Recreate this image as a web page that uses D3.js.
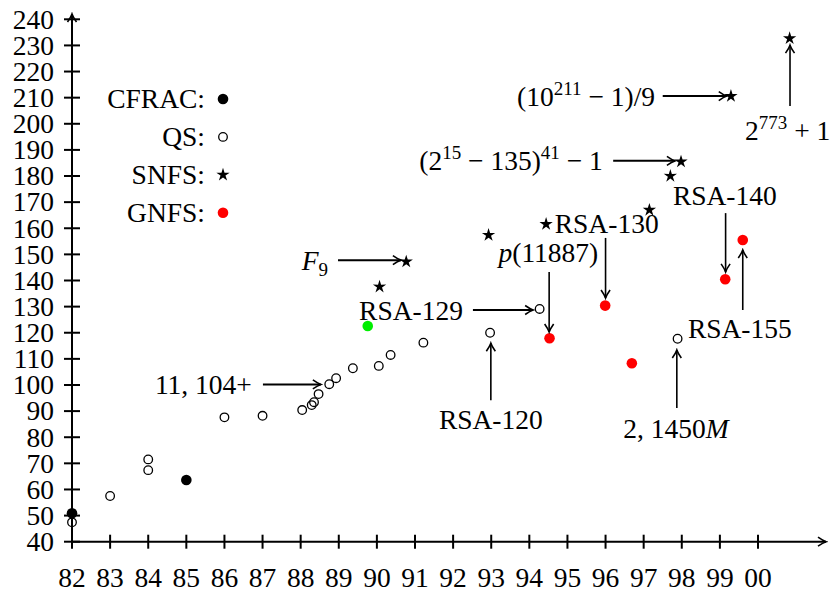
<!DOCTYPE html>
<html>
<head>
<meta charset="utf-8">
<script src="https://cdn.jsdelivr.net/npm/d3@7"></script>
<style>
body { margin: 0; background: #fff; }
text { font-family: "Liberation Serif", "DejaVu Serif", serif; font-size: 27.5px; fill: #000; }
</style>
</head>
<body>
<div id="chart"></div>
<script>
// tick values / labels
var years = [82, 83, 84, 85, 86, 87, 88, 89, 90, 91, 92, 93, 94, 95, 96, 97, 98, 99, 100];
var yearLabels = ["82", "83", "84", "85", "86", "87", "88", "89", "90", "91", "92", "93", "94", "95", "96", "97", "98", "99", "00"];
var digitTicks = [40, 50, 60, 70, 80, 90, 100, 110, 120, 130, 140, 150, 160, 170, 180, 190, 200, 210, 220, 230, 240];

// record factorizations: [year, digits]
var cfrac = [[82, 50.9], [85, 63.6]];
var qs = [[82, 47.4], [83, 57.5], [84, 67.4], [84, 71.5], [86, 87.6], [87, 88.2],
  [88.04, 90.4], [88.29, 92.3], [88.35, 93.4], [88.47, 96.5], [88.75, 100.3], [88.93, 102.6],
  [89.37, 106.4], [90.05, 107.3], [90.36, 111.5], [91.22, 116.2], [92.97, 120.0],
  [94.27, 129.1], [97.89, 117.7]];
var other = [[89.76, 122.6]];
var snfs = [[90.07, 137.6], [90.77, 147.2], [92.93, 157.4], [94.44, 161.6], [97.15, 167.0],
  [97.7, 180.0], [97.98, 185.5], [99.29, 210.6], [100.83, 232.7]];
var gnfs = [[94.53, 117.9], [95.99, 130.4], [96.69, 108.3], [99.14, 140.5], [99.6, 155.5]];

var legendNames = ["CFRAC:", "QS:", "SNFS:", "GNFS:"];

var width = 837, height = 590;

var svg = d3.select("#chart").append("svg")
  .attr("width", width)
  .attr("height", height);

var x = d3.scaleLinear().domain([82, 100]).range([72, 758]);
var y = d3.scaleLinear().domain([40, 240]).range([541.7, 19.3]);

// arrow head, latex style
svg.append("defs").append("marker")
  .attr("id", "arr")
  .attr("markerUnits", "userSpaceOnUse")
  .attr("viewBox", "-10 -6 12 12")
  .attr("refX", 0).attr("refY", 0)
  .attr("markerWidth", 12).attr("markerHeight", 12)
  .attr("orient", "auto")
  .append("path")
  .attr("d", "M-8,-4.5 Q-3,-1 0,0 Q-3,1 -8,4.5")
  .attr("fill", "none")
  .attr("stroke", "#000")
  .attr("stroke-width", 1.6);

// axes
svg.append("line")
  .attr("x1", x(82)).attr("x2", 826)
  .attr("y1", y(40)).attr("y2", y(40))
  .attr("stroke", "#000").attr("stroke-width", 2)
  .attr("marker-end", "url(#arr)");
svg.append("line")
  .attr("x1", x(82)).attr("x2", x(82))
  .attr("y1", y(40)).attr("y2", 14)
  .attr("stroke", "#000").attr("stroke-width", 2)
  .attr("marker-end", "url(#arr)");

svg.selectAll(".xtick").data(years).enter().append("line")
  .attr("x1", function(d) { return x(d); }).attr("x2", function(d) { return x(d); })
  .attr("y1", y(40) - 7).attr("y2", y(40) + 7)
  .attr("stroke", "#000").attr("stroke-width", 2);
svg.selectAll(".xlab").data(years).enter().append("text")
  .attr("x", function(d) { return x(d); })
  .attr("y", 587)
  .attr("text-anchor", "middle")
  .text(function(d, i) { return yearLabels[i]; });

svg.selectAll(".ytick").data(digitTicks).enter().append("line")
  .attr("x1", x(82) - 8).attr("x2", x(82) + 8)
  .attr("y1", function(d) { return y(d); }).attr("y2", function(d) { return y(d); })
  .attr("stroke", "#000").attr("stroke-width", 2);
svg.selectAll(".ylab").data(digitTicks).enter().append("text")
  .attr("x", 54)
  .attr("y", function(d) { return y(d); })
  .attr("dy", "0.34em")
  .attr("text-anchor", "end")
  .text(function(d) { return d; });

// markers
function starPath(ro, ri) {
  var pts = [];
  for (var k = 0; k < 10; k++) {
    var r = k % 2 ? ri : ro;
    var a = -Math.PI / 2 + k * Math.PI / 5;
    pts.push([r * Math.cos(a), r * Math.sin(a)]);
  }
  return "M" + pts.join("L") + "Z";
}

function drawFilled(data, col) {
  svg.selectAll(null).data(data).enter().append("circle")
    .attr("cx", function(d) { return x(d[0]); })
    .attr("cy", function(d) { return y(d[1]); })
    .attr("r", 5.3)
    .attr("fill", col);
}
drawFilled(cfrac, "#000");
drawFilled(other, "#00ee00");
drawFilled(gnfs, "#ff0000");

svg.selectAll(null).data(qs).enter().append("circle")
  .attr("cx", function(d) { return x(d[0]); })
  .attr("cy", function(d) { return y(d[1]); })
  .attr("r", 4.3)
  .attr("fill", "none")
  .attr("stroke", "#000")
  .attr("stroke-width", 1.3);

svg.selectAll(null).data(snfs).enter().append("path")
  .attr("transform", function(d) { return "translate(" + x(d[0]) + "," + y(d[1]) + ")"; })
  .attr("d", starPath(7, 2.6))
  .attr("fill", "#000");

// legend
var lg = svg.append("g");
legendNames.forEach(function(n, i) {
  var ly = 99 + i * 37.9;
  lg.append("text").attr("x", 205).attr("y", ly).attr("dy", "0.34em")
    .attr("text-anchor", "end").text(n);
  if (i == 0) lg.append("circle").attr("cx", 223).attr("cy", ly).attr("r", 5.3).attr("fill", "#000");
  if (i == 1) lg.append("circle").attr("cx", 223).attr("cy", ly).attr("r", 4.3)
    .attr("fill", "none").attr("stroke", "#000").attr("stroke-width", 1.3);
  if (i == 2) lg.append("path").attr("transform", "translate(223," + ly + ")").attr("d", starPath(7, 2.6));
  if (i == 3) lg.append("circle").attr("cx", 223).attr("cy", ly).attr("r", 5.3).attr("fill", "#ff0000");
});

// annotations: arrow from/to in chart units, label anchor in chart units
// parts: [text, style] where style is "", "i" (italic), "sup", "sub"
var notes = [
  { parts: [["11, 104+", ""]], tx: 86.72, ty: 100.2, anchor: "end", from: [87.01, 100.2], to: [88.53, 100.2] },
  { parts: [["F", "i"], ["9", "sub"]], tx: 88.72, ty: 147.8, anchor: "end", from: [88.98, 147.8], to: [90.63, 147.8] },
  { parts: [["RSA-129", ""]], tx: 92.26, ty: 128.7, anchor: "end", from: [92.52, 128.7], to: [94.1, 128.7] },
  { parts: [["p", "i"], ["(11887)", ""]], tx: 94.5, ty: 150.9, anchor: "middle", from: [94.52, 143.3], to: [94.52, 120.3] },
  { parts: [["RSA-130", ""]], tx: 96.03, ty: 162.0, anchor: "middle", from: [96.0, 156.3], to: [96.0, 133.3] },
  { parts: [["RSA-140", ""]], tx: 99.13, ty: 172.7, anchor: "middle", from: [99.15, 165.8], to: [99.15, 143.3] },
  { parts: [["RSA-155", ""]], tx: 98.16, ty: 121.8, anchor: "start", from: [99.6, 128.7], to: [99.6, 151.7] },
  { parts: [["2, 1450", ""], ["M", "i"]], tx: 97.85, ty: 83.5, anchor: "middle", from: [97.87, 91.2], to: [97.87, 113.4] },
  { parts: [["RSA-120", ""]], tx: 92.99, ty: 86.6, anchor: "middle", from: [92.99, 94.2], to: [92.99, 116.0] },
  { parts: [["(2", ""], ["15", "sup"], [" \u2212 135)", ""], ["41", "sup"], [" \u2212 1", ""]], tx: 95.93, ty: 185.8, anchor: "end", from: [96.2, 185.8], to: [97.82, 185.8] },
  { parts: [["(10", ""], ["211", "sup"], [" \u2212 1)/9", ""]], tx: 97.3, ty: 210.6, anchor: "end", from: [97.5, 210.6], to: [99.18, 210.6] },
  { parts: [["2", ""], ["773", "sup"], [" + 1", ""]], tx: 100.78, ty: 197.5, anchor: "middle", from: [100.84, 206.8], to: [100.84, 230.1] }
];

notes.forEach(function(n) {
  svg.append("line")
    .attr("x1", x(n.from[0])).attr("y1", y(n.from[1]))
    .attr("x2", x(n.to[0])).attr("y2", y(n.to[1]))
    .attr("stroke", "#000")
    .attr("stroke-width", n.from[1] == n.to[1] ? 2 : 1.6)
    .attr("marker-end", "url(#arr)");
  var t = svg.append("text")
    .attr("x", x(n.tx)).attr("y", y(n.ty) + 9.5)
    .attr("text-anchor", n.anchor);
  n.parts.forEach(function(p) {
    var s = t.append("tspan").text(p[0]);
    if (p[1] == "i") s.style("font-style", "italic");
    if (p[1] == "sup") s.style("font-size", "19px");
    if (p[1] == "sub") s.style("font-size", "19px");
  });
  // raise / lower pieces, then come back to the baseline
  var off = 0;
  t.selectAll("tspan").each(function(d, i) {
    var p = n.parts[i];
    var want = p[1] == "sup" ? -11 : (p[1] == "sub" ? 6 : 0);
    d3.select(this).attr("dy", want - off);
    off = want;
  });
});
</script>
</body>
</html>
